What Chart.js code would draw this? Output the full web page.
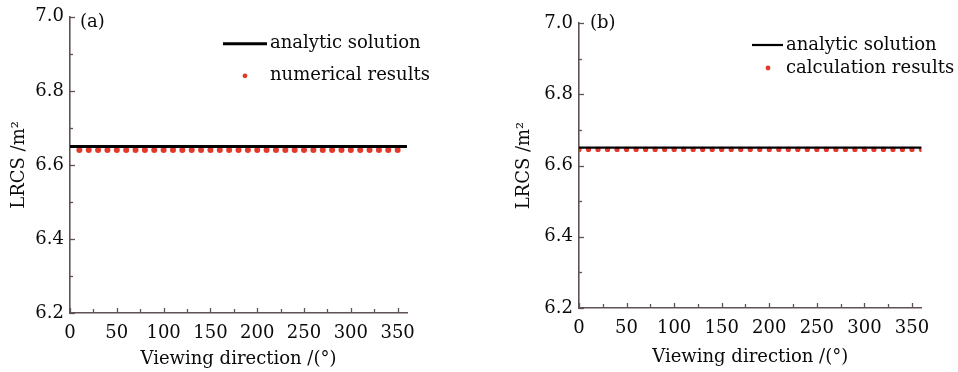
<!DOCTYPE html>
<html>
<head>
<meta charset="utf-8">
<script src="https://cdn.jsdelivr.net/npm/chart.js@4.4.1/dist/chart.umd.min.js"></script>
<style>
  html, body { margin: 0; padding: 0; background: #fff; }
  #wrap { position: relative; width: 958px; height: 372px; }
  .panel { position: absolute; top: 0; height: 372px; }
</style>
</head>
<body>
<div id="wrap">
  <div class="panel" style="left:0;width:480px"><canvas id="chart-a"></canvas></div>
  <div class="panel" style="left:480px;width:478px"><canvas id="chart-b"></canvas></div>
</div>
<script>
// tick values
const xTickValues = [0, 50, 100, 150, 200, 250, 300, 350];
const xMinorValues = [25, 75, 125, 175, 225, 275, 325];
const yTickValues = [6.2, 6.4, 6.6, 6.8, 7.0];
const yMinorValues = [6.3, 6.5, 6.7, 6.9];

// analytic solution (same in both panels)
const analyticAngles = [0, 360];
const analyticA = [6.65, 6.65];
const analyticB = [6.65, 6.65];

// (a) numerical results
const anglesA = [10, 20, 30, 40, 50, 60, 70, 80, 90, 100, 110, 120, 130, 140, 150, 160, 170, 180,
  190, 200, 210, 220, 230, 240, 250, 260, 270, 280, 290, 300, 310, 320, 330, 340, 350];
const numericalA = [6.64, 6.64, 6.64, 6.64, 6.64, 6.64, 6.64, 6.64, 6.64, 6.64, 6.64, 6.64,
  6.64, 6.64, 6.64, 6.64, 6.64, 6.64, 6.64, 6.64, 6.64, 6.64, 6.64, 6.64, 6.64, 6.64, 6.64,
  6.64, 6.64, 6.64, 6.64, 6.64, 6.64, 6.64, 6.64];

// (b) calculation results
const anglesB = [0, 10, 20, 30, 40, 50, 60, 70, 80, 90, 100, 110, 120, 130, 140, 150, 160, 170, 180,
  190, 200, 210, 220, 230, 240, 250, 260, 270, 280, 290, 300, 310, 320, 330, 340, 350, 360];
const calculationB = [6.645, 6.645, 6.645, 6.645, 6.645, 6.645, 6.645, 6.645, 6.645, 6.645,
  6.645, 6.645, 6.645, 6.645, 6.645, 6.645, 6.645, 6.645, 6.645, 6.645, 6.645, 6.645, 6.645,
  6.645, 6.645, 6.645, 6.645, 6.645, 6.645, 6.645, 6.645, 6.645, 6.645, 6.645, 6.645, 6.645, 6.645];

const FONT = "'DejaVu Serif', 'Liberation Serif', serif";
const INK = "#0a0a0a";
const AXIS = "#5e5252";
const RED = "#e2392b";

const toPoints = (xs, ys) => xs.map((x, i) => ({ x, y: ys[i] }));

// ticks pointing into the plot, like the original figure
const inwardTicks = {
  id: "inwardTicks",
  afterDraw(chart) {
    const { ctx, chartArea, scales } = chart;
    ctx.save();
    ctx.strokeStyle = AXIS;
    ctx.lineWidth = 1.3;
    const tickX = (vals, len) => vals.forEach((v) => {
      const px = Math.round(scales.x.getPixelForValue(v)) + 0.5;
      ctx.beginPath();
      ctx.moveTo(px, chartArea.bottom);
      ctx.lineTo(px, chartArea.bottom - len);
      ctx.stroke();
    });
    const tickY = (vals, len) => vals.forEach((v) => {
      const py = Math.round(scales.y.getPixelForValue(v)) + 0.5;
      ctx.beginPath();
      ctx.moveTo(chartArea.left, py);
      ctx.lineTo(chartArea.left + len, py);
      ctx.stroke();
    });
    tickX(xTickValues, 5);
    tickX(xMinorValues, 4);
    tickY(yTickValues, 5);
    tickY(yMinorValues, 3);
    ctx.restore();
  },
};

// panel tag and legend drawn inside the plot
const cornerLegend = {
  id: "cornerLegend",
  afterDraw(chart, args, opts) {
    const { ctx, chartArea } = chart;
    const L = chartArea.left;
    const T = chartArea.top;
    ctx.save();
    ctx.fillStyle = INK;
    ctx.font = `18px ${FONT}`;
    ctx.textBaseline = "middle";
    ctx.textAlign = "left";
    ctx.fillText(opts.tag, L + opts.tagX, T + opts.tagY);

    const line = chart.data.datasets[0];
    const dots = chart.data.datasets[1];
    ctx.strokeStyle = line.borderColor;
    ctx.lineWidth = line.borderWidth;
    ctx.beginPath();
    ctx.moveTo(L + opts.lineX1, T + opts.lineY);
    ctx.lineTo(L + opts.lineX2, T + opts.lineY);
    ctx.stroke();
    ctx.fillText(line.label, L + opts.textX, T + opts.lineY);

    ctx.fillStyle = dots.backgroundColor;
    ctx.beginPath();
    ctx.arc(L + opts.dotX, T + opts.dotY, 2.4, 0, Math.PI * 2);
    ctx.fill();
    ctx.fillStyle = INK;
    ctx.fillText(dots.label, L + opts.textX, T + opts.dotY);
    ctx.restore();
  },
};

const makeChart = (id, cfg) => {
  const tickFont = { family: FONT, size: 18 };
  return new Chart(document.getElementById(id), {
    data: {
      datasets: [
        {
          type: "line",
          label: "analytic solution",
          data: toPoints(analyticAngles, cfg.analytic),
          borderColor: "#000",
          borderWidth: cfg.lineWidth,
          pointRadius: 0,
          order: 0,
        },
        {
          type: "scatter",
          label: cfg.dotLabel,
          data: toPoints(cfg.angles, cfg.values),
          backgroundColor: RED,
          borderWidth: 0,
          pointRadius: cfg.dotRadius,
          order: 1,
        },
      ],
    },
    options: {
      responsive: true,
      maintainAspectRatio: false,
      animation: false,
      events: [],
      layout: { padding: { left: 0, top: cfg.top, right: cfg.right, bottom: 0 } },
      plugins: {
        legend: { display: false },
        tooltip: { enabled: false },
        cornerLegend: cfg.legend,
      },
      scales: {
        x: {
          type: "linear",
          min: 0,
          max: 360,
          afterBuildTicks: (scale) => { scale.ticks = xTickValues.map((value) => ({ value })); },
          afterFit: (scale) => { scale.height = cfg.xHeight; },
          grid: { display: false, drawTicks: false },
          border: { display: true, color: AXIS, width: 1.6 },
          ticks: { color: INK, font: tickFont, padding: 10, maxRotation: 0 },
          title: {
            display: true,
            text: "Viewing direction /(°)",
            color: INK,
            font: tickFont,
            padding: { top: 0, bottom: cfg.xTitlePad },
          },
        },
        y: {
          type: "linear",
          min: 6.2,
          max: 7.0,
          afterBuildTicks: (scale) => { scale.ticks = yTickValues.map((value) => ({ value })); },
          afterFit: (scale) => { scale.width = cfg.yWidth; },
          grid: { display: false, drawTicks: false },
          border: { display: true, color: AXIS, width: 1.6 },
          ticks: { color: INK, font: tickFont, padding: 6, callback: (v) => Number(v).toFixed(1) },
          title: {
            display: true,
            text: "LRCS /m²",
            color: INK,
            font: tickFont,
            padding: { top: cfg.yTitlePad, bottom: 0 },
          },
        },
      },
    },
    plugins: [inwardTicks, cornerLegend],
  });
};

makeChart("chart-a", {
  analytic: analyticA,
  angles: anglesA,
  values: numericalA,
  dotLabel: "numerical results",
  lineWidth: 3,
  dotRadius: 3,
  top: 16,
  right: 73,
  xHeight: 59,
  yWidth: 70,
  xTitlePad: 2,
  yTitlePad: 9,
  legend: { tag: "(a)", tagX: 10, tagY: 6, lineX1: 153, lineX2: 197, lineY: 27, textX: 200, dotX: 175, dotY: 59 },
});

makeChart("chart-b", {
  analytic: analyticB,
  angles: anglesB,
  values: calculationB,
  dotLabel: "calculation results",
  lineWidth: 2.2,
  dotRadius: 2.6,
  top: 23,
  right: 36.5,
  xHeight: 64,
  yWidth: 99,
  xTitlePad: 4,
  yTitlePad: 34,
  legend: { tag: "(b)", tagX: 11, tagY: 0, lineX1: 173, lineX2: 204, lineY: 22, textX: 207, dotX: 189, dotY: 45 },
});
</script>
</body>
</html>
